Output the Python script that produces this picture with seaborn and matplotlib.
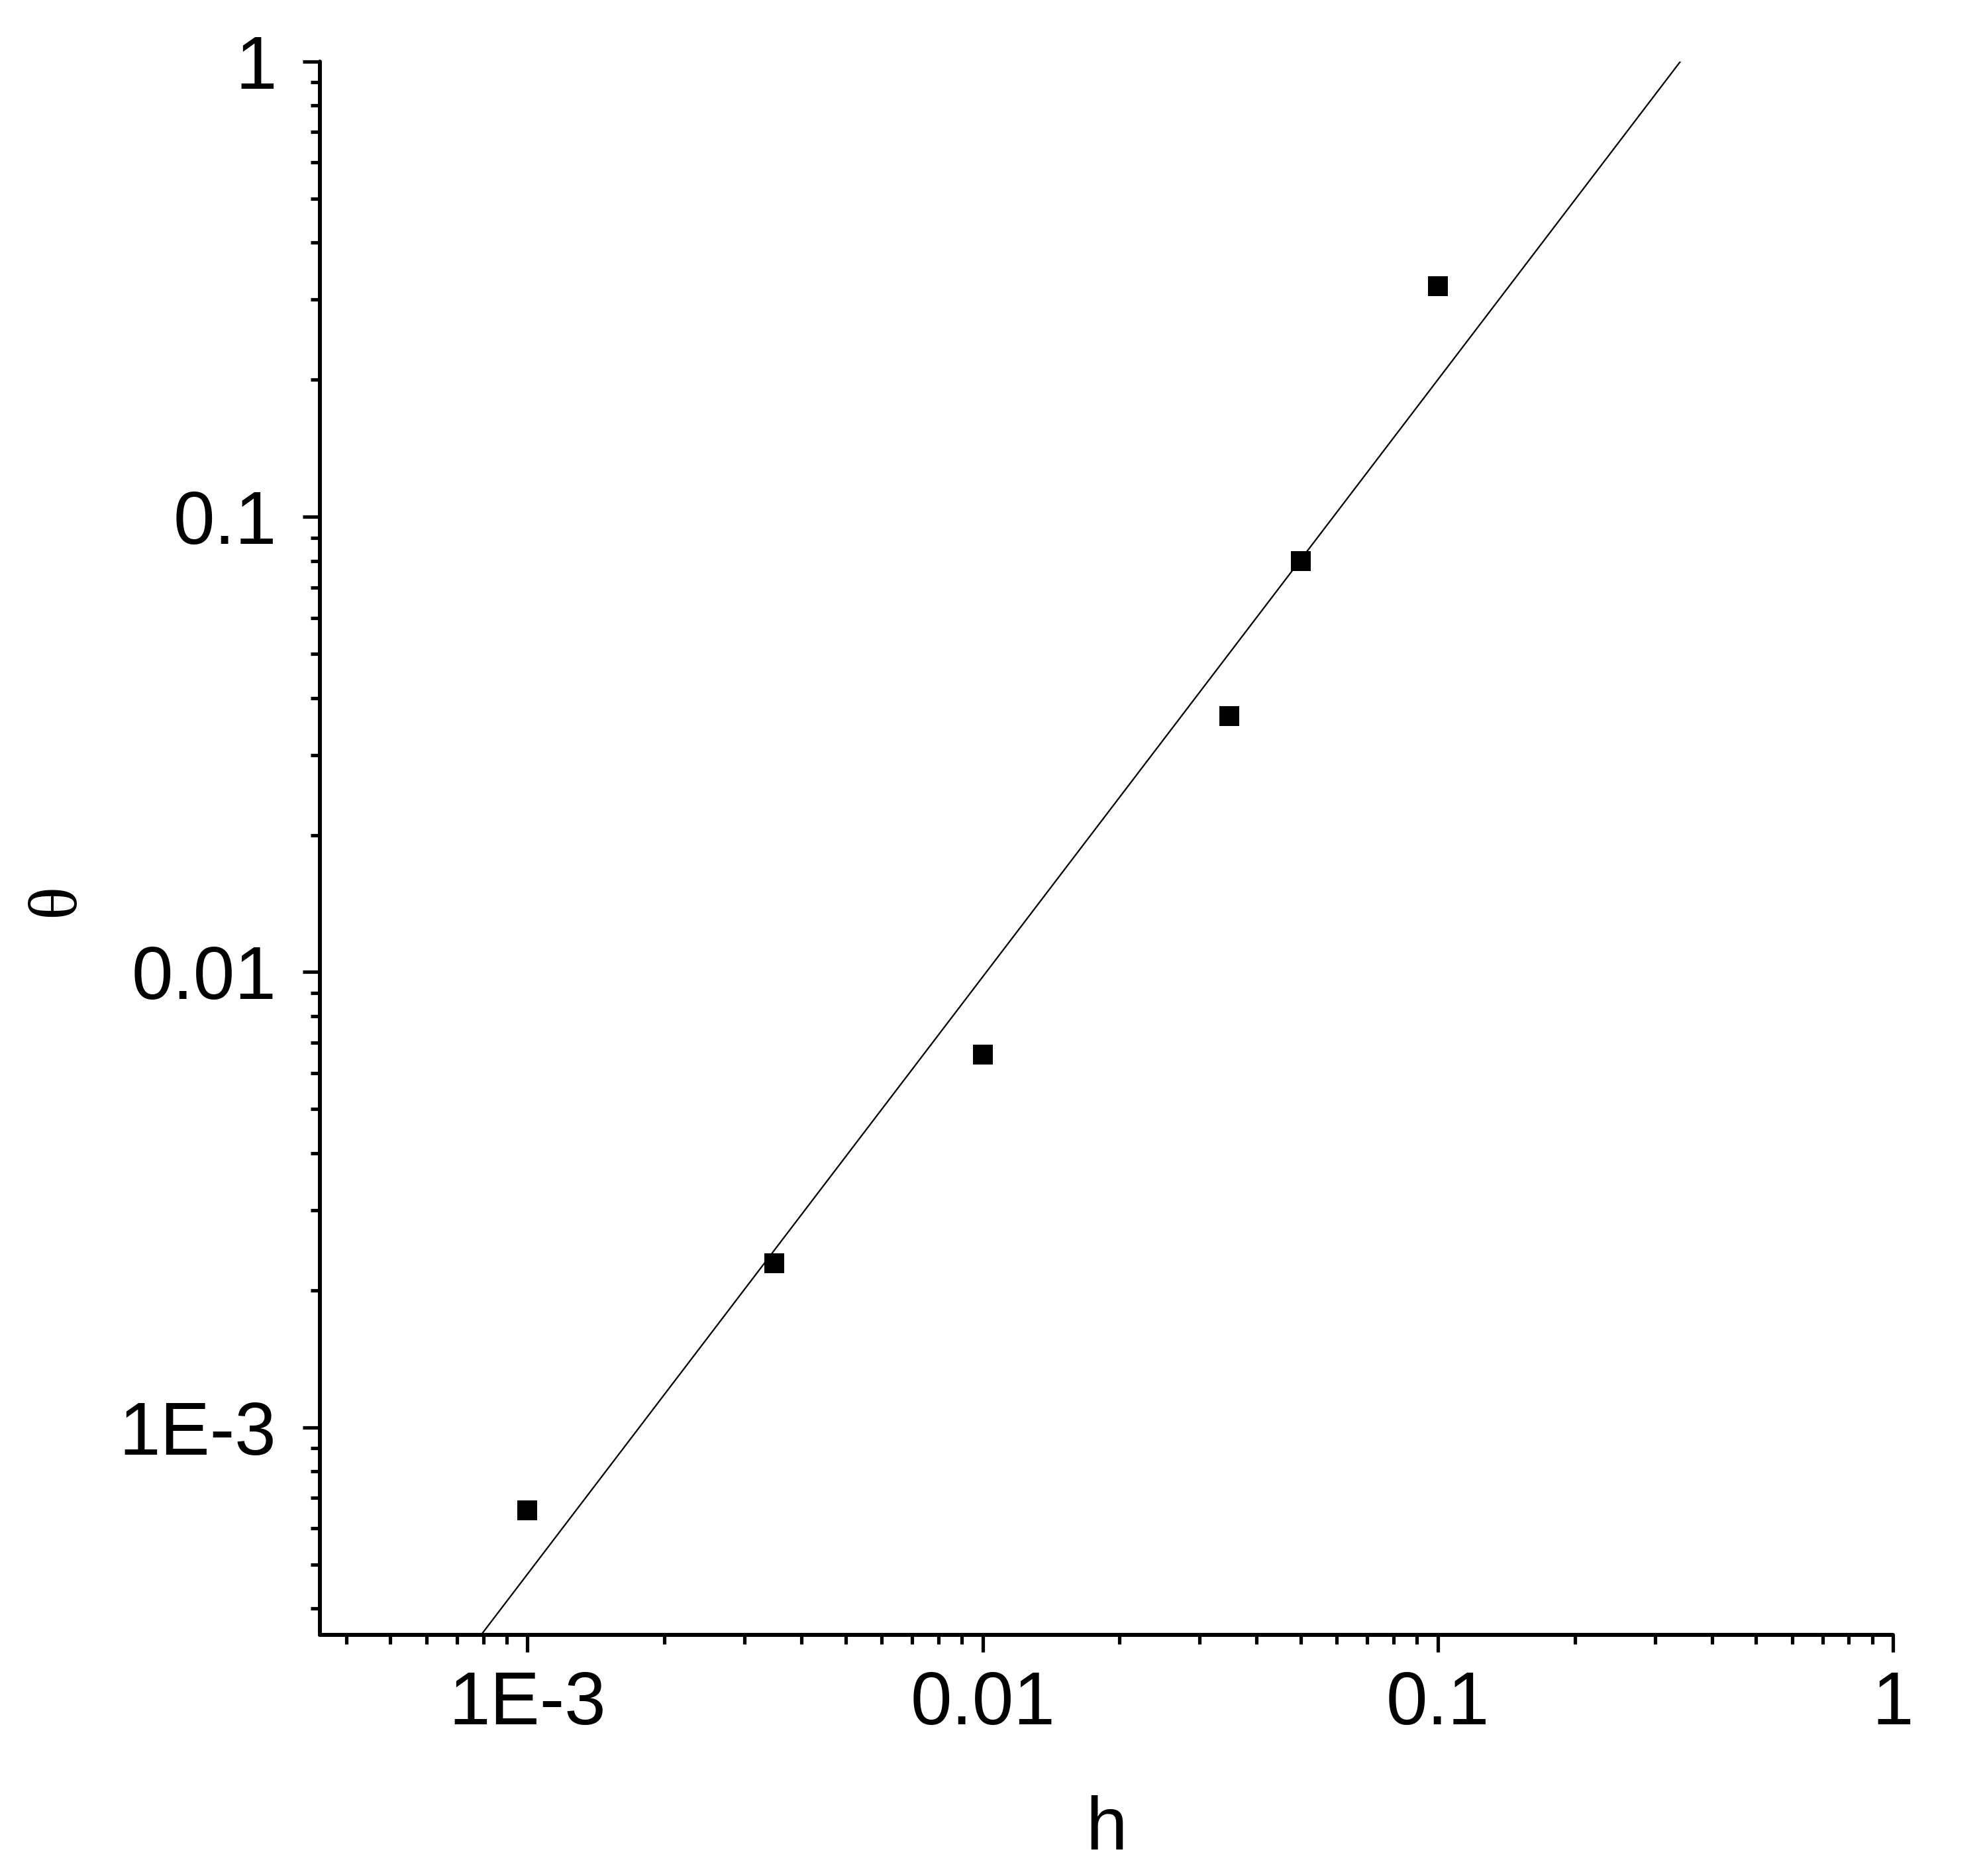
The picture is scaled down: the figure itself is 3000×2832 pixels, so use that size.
import numpy as np
import pandas as pd
import matplotlib
matplotlib.use("Agg")
import matplotlib.pyplot as plt
from matplotlib.ticker import FixedLocator, FixedFormatter, LogLocator, NullFormatter
import seaborn as sns

# ---- data ----
h_values = [1.0e-3, 3.49e-3, 1.0e-2, 3.48e-2, 5.0e-2, 1.0e-1]
theta_values = [6.58e-4, 2.29e-3, 6.58e-3, 3.65e-2, 8.0e-2, 0.321]

fit_h = [7.91e-4, 0.341]
fit_theta = [3.5e-4, 1.0]

tick_values = [1e-3, 1e-2, 1e-1, 1.0]
tick_labels = ["1E-3", "0.01", "0.1", "1"]

axis_min, axis_max = 3.5e-4, 1.0

# ---- style ----
sns.set_theme(style="ticks")
plt.rcParams["font.family"] = ["Liberation Sans", "DejaVu Sans"]

fig = plt.figure(figsize=(10, 9.44), dpi=300)
ax = fig.add_axes([0.161, 0.1285, 0.9527 - 0.161, 0.9672 - 0.1285])

points = pd.DataFrame({"h": h_values, "theta": theta_values})
fit = pd.DataFrame({"h": fit_h, "theta": fit_theta})

sns.lineplot(data=fit, x="h", y="theta", ax=ax, color="black", linewidth=0.55,
             zorder=2, legend=False)
sns.scatterplot(data=points, x="h", y="theta", ax=ax, marker="s", s=52,
                color="black", linewidth=0, zorder=3, legend=False)

ax.set_xscale("log")
ax.set_yscale("log")
ax.set_xlim(axis_min, axis_max)
ax.set_ylim(axis_min, axis_max)

for axis in (ax.xaxis, ax.yaxis):
    axis.set_major_locator(FixedLocator(tick_values))
    axis.set_major_formatter(FixedFormatter(tick_labels))
    axis.set_minor_locator(LogLocator(base=10, subs=np.arange(2, 10), numticks=20))
    axis.set_minor_formatter(NullFormatter())

sns.despine(ax=ax)
for side in ("left", "bottom"):
    ax.spines[side].set_linewidth(1.45)
    ax.spines[side].set_color("black")
    ax.spines[side].set_capstyle("round")

ax.tick_params(which="major", direction="out", length=6.2, width=1.25,
               color="black", labelsize=27, labelcolor="black")
ax.tick_params(which="minor", direction="out", length=3.3, width=1.25,
               color="black")
ax.tick_params(axis="x", which="major", pad=6.5)
ax.tick_params(axis="y", which="major", pad=9.5)

ax.set_xlabel("h", fontsize=27, color="black", labelpad=20)
ax.set_ylabel("θ", fontsize=25, color="black",
              family=["Liberation Serif", "DejaVu Serif"], va="center")
ax.yaxis.set_label_coords(-0.167, 0.467)

fig.savefig("out.png", dpi=300, facecolor="white")
